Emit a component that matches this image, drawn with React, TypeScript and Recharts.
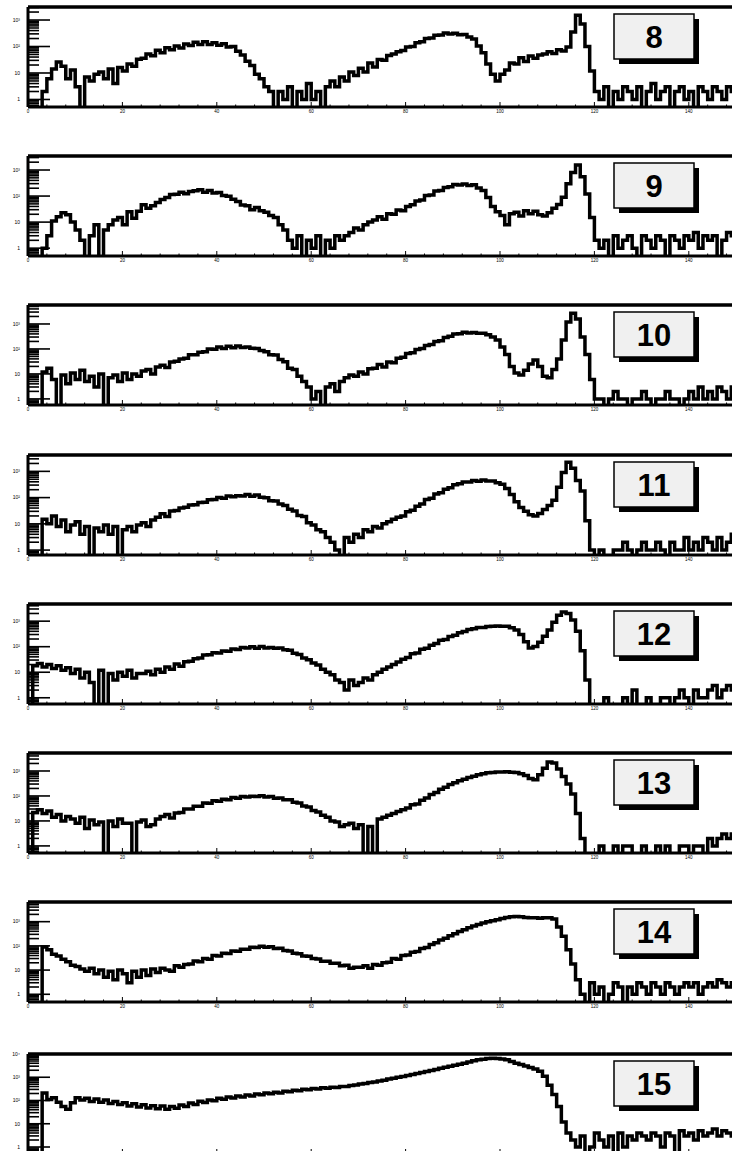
import React from 'react'
import { LineChart, Line, XAxis, YAxis, ReferenceLine, Customized } from 'recharts'

// counts per 1-unit bin, 0..149
const H8 = [
  0, 0, 0, 2, 6, 14, 26, 18, 6, 13,
  3, 0, 7, 5, 9, 11, 6, 14, 4, 16,
  12, 22, 18, 33, 36, 52, 45, 72, 58, 90,
  75, 105, 88, 125, 110, 145, 118, 150, 120, 140,
  112, 128, 96, 100, 66, 48, 28, 19, 9, 6,
  3, 2, 0, 2, 1, 3, 0, 2, 1, 4,
  1, 2, 0, 3, 5, 3, 7, 5, 11, 8,
  15, 11, 24, 17, 32, 30, 46, 52, 64, 70,
  96, 100, 138, 150, 200, 210, 265, 270, 320, 295,
  315, 280, 285, 230, 190, 105, 58, 22, 9, 5,
  9, 13, 24, 22, 38, 27, 44, 36, 48, 52,
  64, 55, 76, 68, 95, 350, 1500, 700, 100, 12,
  2, 1, 3, 0, 2, 1, 3, 2, 1, 3,
  0, 2, 4, 1, 2, 3, 0, 2, 3, 1,
  2, 0, 3, 2, 1, 3, 2, 1, 3, 2,
]
const H9 = [
  0, 0, 0, 1, 3, 11, 16, 23, 19, 10,
  5, 2, 0, 3, 8, 0, 5, 8, 12, 15,
  8, 25, 14, 26, 46, 34, 42, 56, 74, 88,
  115, 118, 140, 122, 150, 160, 175, 140, 165, 130,
  138, 105, 98, 76, 62, 45, 42, 30, 36, 27,
  24, 18, 15, 8, 5, 2, 1, 3, 0, 2,
  1, 3, 0, 2, 1, 3, 2, 3, 4, 6,
  5, 8, 10, 12, 16, 13, 21, 20, 29, 27,
  40, 46, 65, 70, 105, 110, 155, 165, 215, 230,
  275, 265, 290, 255, 270, 205, 165, 88, 40, 25,
  18, 8, 21, 24, 17, 27, 21, 26, 19, 17,
  23, 34, 47, 90, 300, 800, 1550, 550, 120, 15,
  2, 1, 2, 0, 3, 1, 2, 3, 1, 0,
  3, 2, 1, 3, 2, 0, 3, 2, 1, 3,
  2, 4, 1, 3, 2, 3, 0, 2, 4, 3,
]
const H10 = [
  0, 0, 0, 12, 17, 6, 0, 9, 4, 11,
  6, 14, 5, 8, 3, 10, 0, 7, 9, 5,
  11, 6, 10, 8, 13, 15, 10, 19, 22, 18,
  30, 32, 40, 42, 58, 58, 74, 78, 100, 98,
  120, 104, 128, 112, 132, 114, 120, 106, 104, 86,
  78, 58, 57, 38, 31, 17, 15, 8, 5, 3,
  1, 2, 0, 3, 4, 2, 5, 7, 9, 8,
  12, 10, 16, 17, 24, 19, 30, 28, 42, 47,
  66, 70, 95, 104, 138, 150, 200, 215, 290, 320,
  400, 410, 465, 440, 460, 425, 430, 370, 300, 230,
  120, 60, 20, 11, 9, 14, 25, 36, 20, 8,
  7, 15, 40, 230, 1200, 2700, 1600, 300, 60, 6,
  1, 1, 0, 1, 2, 1, 1, 0, 1, 1,
  2, 1, 0, 1, 1, 2, 1, 1, 0, 1,
  2, 1, 3, 1, 2, 1, 3, 2, 1, 3,
]
const H11 = [
  0, 0, 0, 15, 10, 20, 8, 14, 5, 9,
  12, 4, 8, 0, 7, 5, 9, 4, 8, 0,
  6, 8, 5, 9, 11, 8, 14, 18, 24, 19,
  31, 32, 40, 43, 52, 53, 65, 67, 82, 84,
  100, 95, 114, 108, 118, 114, 130, 112, 126, 104,
  98, 76, 75, 57, 50, 36, 31, 21, 19, 11,
  9, 6, 5, 3, 2, 1, 0, 3, 2, 4,
  3, 6, 5, 8, 7, 10, 12, 15, 18, 20,
  29, 33, 47, 57, 84, 95, 136, 152, 210, 238,
  310, 335, 395, 390, 445, 420, 465, 425, 430, 365,
  320, 220, 130, 70, 42, 30, 22, 20, 25, 35,
  50, 80, 250, 900, 2200, 1300, 450, 180, 13, 1,
  0, 1, 0, 0, 1, 1, 2, 1, 0, 1,
  2, 1, 1, 2, 1, 0, 2, 1, 1, 3,
  1, 2, 1, 3, 2, 1, 3, 1, 2, 4,
]
const H12 = [
  0, 18, 22, 16, 20, 14, 18, 12, 15, 9,
  13, 6, 10, 4, 0, 12, 0, 9, 5, 10,
  7, 12, 6, 9, 9, 11, 8, 13, 10, 16,
  13, 21, 17, 26, 27, 34, 36, 47, 48, 58,
  57, 68, 67, 81, 78, 92, 88, 99, 86, 102,
  88, 92, 86, 89, 76, 73, 55, 50, 36, 31,
  23, 19, 13, 10, 8, 5, 4, 2, 5, 3,
  4, 6, 5, 8, 10, 13, 16, 20, 25, 32,
  38, 53, 57, 79, 86, 115, 134, 178, 192, 250,
  280, 350, 390, 470, 500, 560, 570, 620, 625, 645,
  635, 625, 555, 455, 300, 155, 88, 102, 148, 255,
  450, 900, 1700, 2300, 2000, 1100, 400, 70, 5, 0,
  0, 0, 1, 0, 0, 0, 1, 0, 2, 0,
  0, 1, 0, 0, 1, 1, 0, 1, 2, 1,
  0, 2, 1, 1, 2, 3, 1, 2, 3, 2,
]
const H13 = [
  0, 22, 28, 20, 25, 14, 18, 10, 15, 12,
  8, 14, 5, 11, 7, 9, 0, 10, 6, 12,
  8, 8, 0, 9, 11, 6, 7, 12, 15, 18,
  13, 21, 22, 30, 30, 39, 39, 52, 51, 64,
  61, 74, 71, 86, 81, 95, 90, 97, 95, 103,
  91, 96, 81, 83, 71, 70, 56, 52, 40, 36,
  26, 23, 17, 14, 10, 9, 6, 7, 8, 5,
  7, 0, 6, 0, 12, 14, 17, 20, 24, 28,
  33, 44, 48, 68, 82, 114, 136, 186, 225, 285,
  335, 405, 465, 545, 615, 705, 775, 845, 875, 905,
  905, 925, 895, 865, 775, 655, 500, 450, 700, 1300,
  2300, 2100, 1200, 600, 300, 120, 20, 2, 0, 0,
  0, 1, 0, 0, 1, 0, 1, 1, 0, 0,
  1, 0, 0, 1, 0, 1, 0, 0, 1, 1,
  0, 1, 1, 0, 2, 1, 2, 3, 2, 3,
]
const H14 = [
  0, 0, 0, 90, 70, 45, 38, 28, 22, 16,
  14, 11, 9, 12, 7, 10, 5, 9, 4, 10,
  7, 3, 9, 5, 10, 6, 11, 8, 12, 10,
  9, 15, 13, 17, 18, 24, 22, 30, 28, 40,
  38, 50, 48, 61, 60, 73, 72, 88, 86, 97,
  88, 92, 78, 79, 64, 62, 50, 47, 38, 37,
  30, 29, 23, 23, 19, 19, 15, 16, 12, 13,
  13, 15, 12, 17, 16, 20, 21, 30, 28, 40,
  42, 55, 58, 78, 85, 115, 135, 175, 205, 265,
  315, 395, 465, 565, 655, 765, 875, 1000, 1100, 1200,
  1350, 1500, 1600, 1650, 1600, 1500, 1450, 1450, 1400, 1450,
  1450, 1300, 600, 250, 70, 18, 4, 1, 0, 3,
  1, 2, 0, 1, 3, 2, 0, 2, 1, 3,
  2, 1, 3, 2, 1, 3, 2, 1, 2, 3,
  2, 3, 1, 2, 3, 2, 4, 3, 2, 3,
]
const H15 = [
  0, 0, 0, 210, 110, 130, 85, 55, 42, 80,
  130, 105, 125, 90, 115, 85, 105, 75, 90, 68,
  80, 58, 72, 52, 66, 48, 60, 44, 58, 42,
  55, 46, 64, 55, 78, 68, 92, 82, 105, 98,
  125, 112, 140, 128, 155, 142, 172, 158, 190, 176,
  210, 196, 228, 212, 252, 236, 275, 260, 305, 290,
  332, 315, 352, 338, 375, 360, 398, 405, 445, 468,
  515, 540, 595, 630, 695, 745, 835, 895, 995, 1070,
  1180, 1320, 1460, 1620, 1780, 1960, 2180, 2420, 2680, 2950,
  3250, 3650, 4050, 4550, 5100, 5600, 6000, 6350, 6600, 6450,
  6150, 5600, 4800, 4050, 3500, 3050, 2650, 2250, 1800, 1100,
  450, 180, 55, 12, 4, 2, 1, 3, 0, 1,
  4, 2, 1, 3, 0, 4, 1, 3, 2, 4,
  3, 2, 4, 3, 1, 4, 3, 0, 5, 3,
  4, 2, 5, 3, 4, 6, 3, 5, 4, 3,
]

const PAD_LABELS = ['8', '9', '10', '11', '12', '13', '14', '15']
const PAD_COUNTS = [H8, H9, H10, H11, H12, H13, H14, H15]
// log y range of each pad
const Y_MIN = [0.52, 0.5, 0.57, 0.65, 0.57, 0.52, 0.48, 0.5]
const Y_MAX = [3100, 3450, 5750, 4200, 4700, 5250, 6500, 10000]
const X_MAJOR = [0, 20, 40, 60, 80, 100, 120, 140]

// layout
const PAD_TOP = [7, 156, 305, 455, 604, 753, 902, 1054]
const CHART_W = 740
const CHART_H = 120
const TOP = 5
const PLOT_H = 100
const LEFT = 28
const FONT = '"Liberation Sans", Arial, Helvetica, sans-serif'

const SUP: Record<string, string> = { '2': '²', '3': '³', '4': '⁴' }

function decadeLabel(v: number) {
  const e = Math.round(Math.log10(v))
  if (e === 0) return '1'
  if (e === 1) return '10'
  return '10' + (SUP[String(e)] || '')
}

function YTick(props: any) {
  const { y, payload } = props
  const lg = Math.log10(payload.value)
  const major = Math.abs(lg - Math.round(lg)) < 1e-6
  return (
    <g>
      <line x1={LEFT} x2={LEFT + (major ? 22 : 11)} y1={y} y2={y} stroke="#000" strokeWidth={1.6} />
      {major && (
        <text x={20} y={y + 1.8} textAnchor="end" fontSize={5} fontFamily={FONT} fill="#000">
          {decadeLabel(payload.value)}
        </text>
      )}
    </g>
  )
}

// last pad sits on the page edge, its labels fall outside the picture
function makeXTick(showLabels: boolean) {
  return function XTick(props: any) {
    const { x, payload } = props
    const major = X_MAJOR.includes(payload.value)
    const axisY = TOP + PLOT_H
    return (
      <g>
        <line x1={x} x2={x} y1={axisY} y2={axisY - (major ? 5 : 2.5)} stroke="#000" strokeWidth={1} />
        {major && showLabels && (
          <text x={x} y={axisY + 6} textAnchor="middle" fontSize={4.5} fontFamily={FONT} fill="#000">
            {payload.value}
          </text>
        )}
      </g>
    )
  }
}

function LabelBox({ text }: { text: string }) {
  const x = 614
  const y = TOP + 7
  const w = 80
  const h = 45
  return (
    <g>
      <rect x={x + 5} y={y + 5} width={w} height={h} fill="#000" />
      <rect x={x} y={y} width={w} height={h} fill="#f0f0f0" stroke="#000" strokeWidth={1.5} />
      <text x={x + w / 2} y={y + 34} textAnchor="middle" fontSize={31} fontWeight="bold" fontFamily={FONT} fill="#000">
        {text}
      </text>
    </g>
  )
}

function Pad({ idx }: { idx: number }) {
  const yMin = Y_MIN[idx]
  const yMax = Y_MAX[idx]
  const counts = PAD_COUNTS[idx]
  // empty bins sit below the log axis
  const data = counts.map((c, i) => ({ x: i, v: c > 0 ? c : yMin * 0.5 }))
  data.push({ x: 150, v: data[data.length - 1].v })

  const yTicks: number[] = []
  for (const d of [0.1, 1, 10, 100, 1000, 10000]) {
    for (let k = 1; k <= 9; k++) {
      const t = d * k
      if (t >= yMin && t <= yMax) yTicks.push(t)
    }
  }
  const xTicks: number[] = []
  for (let t = 0; t < 150; t += 4) xTicks.push(t)

  const isLast = idx === PAD_LABELS.length - 1

  return (
    <div style={{ position: 'absolute', left: 0, top: PAD_TOP[idx] - TOP }}>
      <LineChart width={CHART_W} height={CHART_H} data={data} margin={{ top: TOP, right: 4, bottom: 0, left: 0 }}>
        <XAxis
          type="number"
          dataKey="x"
          domain={[0, 150]}
          allowDataOverflow
          ticks={xTicks}
          interval={0}
          height={15}
          axisLine={{ stroke: '#000', strokeWidth: 3 }}
          tickLine={false}
          tick={makeXTick(!isLast)}
        />
        <YAxis
          type="number"
          scale="log"
          domain={[yMin, yMax]}
          allowDataOverflow
          ticks={yTicks}
          interval={0}
          width={LEFT}
          axisLine={{ stroke: '#000', strokeWidth: 3 }}
          tickLine={false}
          tick={YTick}
        />
        <ReferenceLine y={yMax} stroke="#000" strokeWidth={3.5} />
        <Line
          type="stepAfter"
          dataKey="v"
          stroke="#000"
          strokeWidth={3.5}
          dot={false}
          isAnimationActive={false}
        />
        <Customized component={<LabelBox text={PAD_LABELS[idx]} />} />
      </LineChart>
    </div>
  )
}

export default function App() {
  return (
    <div style={{ position: 'absolute', left: 0, top: 0, width: 732, height: 1151, overflow: 'hidden', background: '#fff' }}>
      {PAD_LABELS.map((_, i) => (
        <Pad key={i} idx={i} />
      ))}
    </div>
  )
}
